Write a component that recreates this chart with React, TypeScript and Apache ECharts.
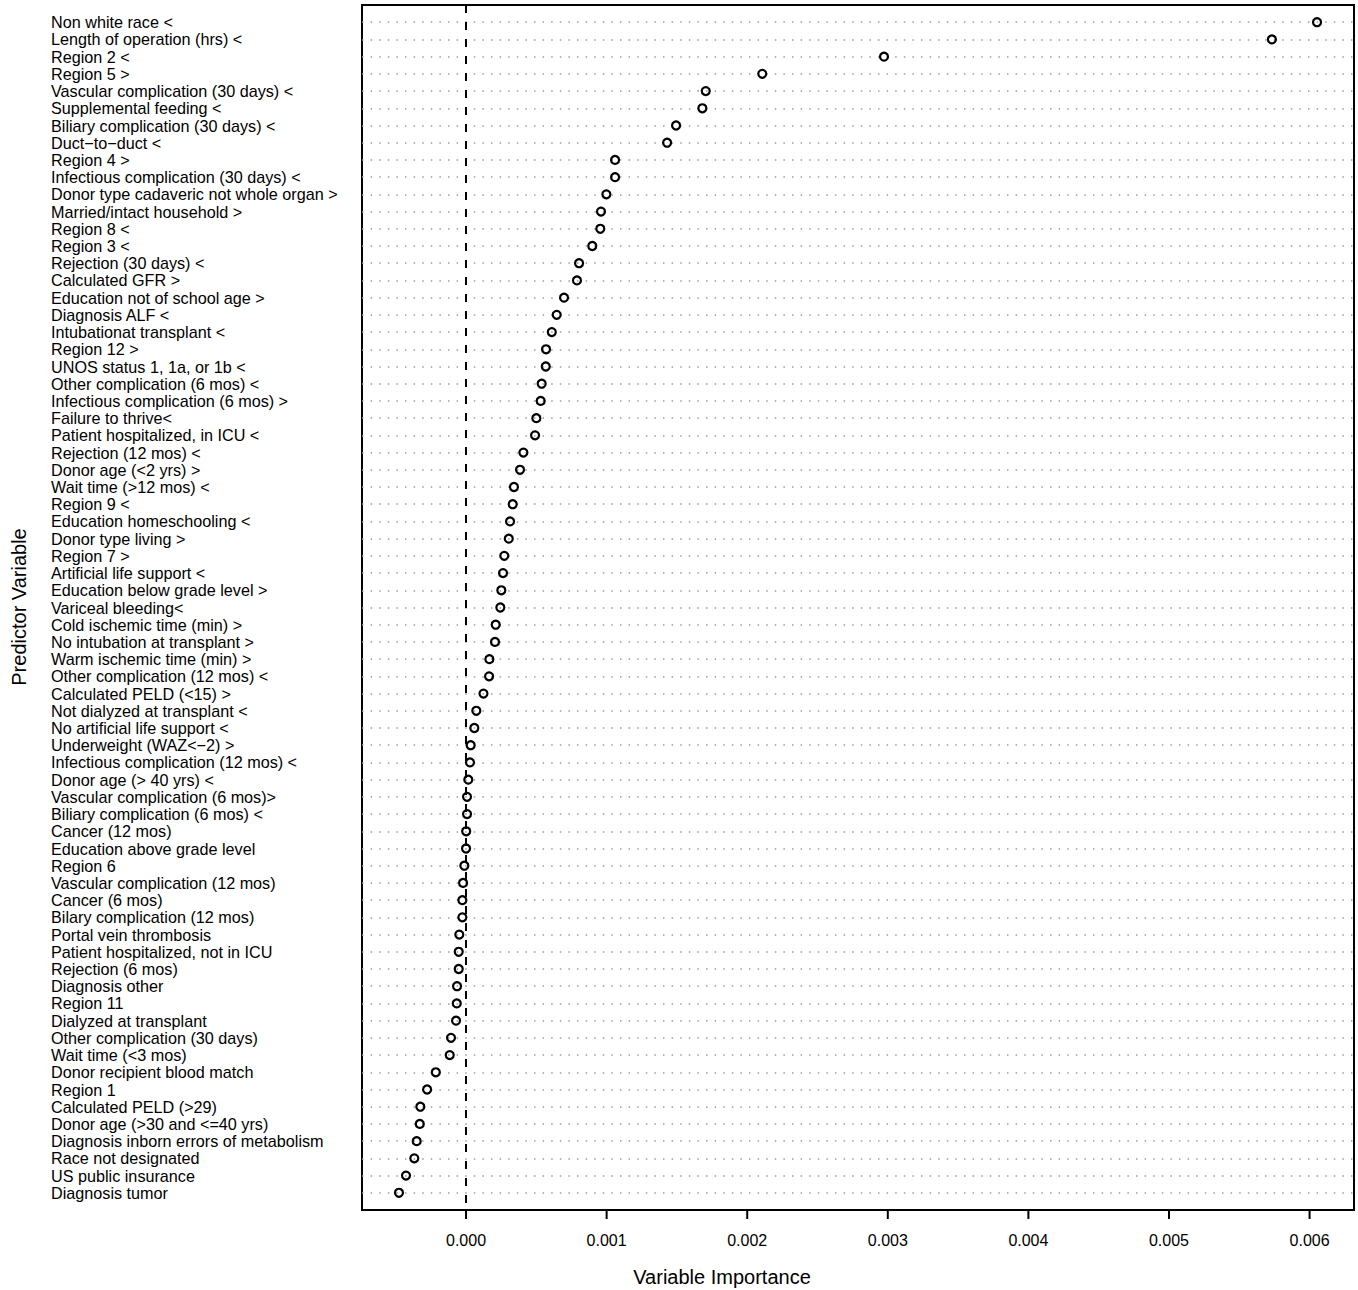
import React, { useEffect, useRef } from "react";
import * as echarts from "echarts";

const predictors: string[] = [
  "Non white race <",
  "Length of operation (hrs) <",
  "Region 2 <",
  "Region 5 >",
  "Vascular complication (30 days) <",
  "Supplemental feeding <",
  "Biliary complication (30 days) <",
  "Duct\u2212to\u2212duct <",
  "Region 4 >",
  "Infectious complication (30 days) <",
  "Donor type cadaveric not whole organ >",
  "Married/intact household >",
  "Region 8 <",
  "Region 3 <",
  "Rejection (30 days) <",
  "Calculated GFR >",
  "Education not of school age >",
  "Diagnosis ALF <",
  "Intubationat transplant <",
  "Region 12 >",
  "UNOS status 1, 1a, or 1b <",
  "Other complication (6 mos) <",
  "Infectious complication (6 mos) >",
  "Failure to thrive<",
  "Patient hospitalized, in ICU <",
  "Rejection (12 mos) <",
  "Donor age (<2 yrs) >",
  "Wait time (>12 mos) <",
  "Region 9 <",
  "Education homeschooling <",
  "Donor type living >",
  "Region 7 >",
  "Artificial life support <",
  "Education below grade level >",
  "Variceal bleeding<",
  "Cold ischemic time (min) >",
  "No intubation at transplant >",
  "Warm ischemic time (min) >",
  "Other complication (12 mos) <",
  "Calculated PELD (<15) >",
  "Not dialyzed at transplant <",
  "No artificial life support <",
  "Underweight (WAZ<\u22122) >",
  "Infectious complication (12 mos) <",
  "Donor age (> 40 yrs) <",
  "Vascular complication (6 mos)>",
  "Biliary complication (6 mos) <",
  "Cancer (12 mos)",
  "Education above grade level",
  "Region 6",
  "Vascular complication (12 mos)",
  "Cancer (6 mos)",
  "Bilary complication (12 mos)",
  "Portal vein thrombosis",
  "Patient hospitalized, not in ICU",
  "Rejection (6 mos)",
  "Diagnosis other",
  "Region 11",
  "Dialyzed at transplant",
  "Other complication (30 days)",
  "Wait time (<3 mos)",
  "Donor recipient blood match",
  "Region 1",
  "Calculated PELD (>29)",
  "Donor age (>30 and <=40 yrs)",
  "Diagnosis inborn errors of metabolism",
  "Race not designated",
  "US public insurance",
  "Diagnosis tumor",
];

const importance: number[] = [
  0.006053, 0.005732, 0.002973, 0.002107, 0.001705, 0.001681, 0.001494, 0.00143,
  0.00106, 0.00106, 0.000998, 0.00096, 0.000955, 0.000898, 0.000804, 0.000789,
  0.000697, 0.000645, 0.00061, 0.000569, 0.000567, 0.000538, 0.000531, 0.0005,
  0.000491, 0.000408, 0.000384, 0.000341, 0.000332, 0.000313, 0.000304, 0.000272,
  0.000263, 0.000251, 0.000244, 0.000211, 0.000206, 0.000166, 0.000164, 0.000124,
  0.000073, 0.000059, 0.000033, 0.000028, 0.000016, 0.000007, 0.000007, 0.000001,
  0.0, -0.000012, -0.000021, -0.000026, -0.000026, -0.000048, -0.000052, -0.000052,
  -0.000064, -0.000066, -0.000071, -0.000107, -0.000116, -0.000215, -0.000277,
  -0.000325, -0.000329, -0.000351, -0.000368, -0.000427, -0.000477,
];

const xTicks: number[] = [0, 0.001, 0.002, 0.003, 0.004, 0.005, 0.006];

const xTitle = "Variable Importance";
const yTitle = "Predictor Variable";

export default function App() {
  const ref = useRef<HTMLDivElement>(null);
  useEffect(() => {
    if (!ref.current) return;
    const chart = echarts.init(ref.current, undefined, { renderer: "svg" });
    const n = predictors.length;
    const splitColors: string[] = [];
    for (let i = 0; i <= n + 1; i++) {
      splitColors.push(i === 0 || i === n + 1 ? "rgba(0,0,0,0)" : "#9c9c9c");
    }
    const font = "'Liberation Sans', Arial, Helvetica, sans-serif";
    const xMin = -0.00074;
    const xMax = 0.006316;
    chart.setOption({
      animation: false,
      textStyle: { fontFamily: font },
      grid: [
        {
          left: 362,
          right: 4,
          top: 5,
          bottom: 80,
          show: true,
          borderColor: "#000",
          borderWidth: 2,
          backgroundColor: "rgba(0,0,0,0)",
        },
        {
          left: 362,
          right: 4,
          top: 1210,
          height: 9,
          show: false,
        },
      ],
      xAxis: [
        {
          type: "value",
          gridIndex: 0,
          min: xMin,
          max: xMax,
          axisLine: { show: true, onZero: false, lineStyle: { color: "#000", width: 2 } },
          splitLine: { show: false },
          axisTick: { show: false },
          axisLabel: {
            customValues: xTicks,
            formatter: (v: number) => v.toFixed(3),
            fontSize: 16,
            color: "#000",
            margin: 22,
            fontFamily: font,
          },
        },
        {
          type: "value",
          gridIndex: 1,
          min: xMin,
          max: xMax,
          show: false,
        },
      ],
      yAxis: [
        {
          type: "value",
          gridIndex: 0,
          min: 0,
          max: n + 1,
          interval: 1,
          inverse: true,
          axisLine: { show: false, onZero: false },
          axisTick: { show: false },
          axisLabel: {
            align: "left",
            margin: 311,
            fontSize: 16.2,
            color: "#000",
            fontFamily: font,
            formatter: (v: number) => predictors[Math.round(v) - 1] ?? "",
          },
          splitLine: {
            show: true,
            lineStyle: { color: splitColors, width: 1.5, type: [1.5, 7.1] },
          },
        },
        {
          type: "value",
          gridIndex: 1,
          min: 0,
          max: 1,
          show: false,
        },
      ],
      series: [
        {
          type: "scatter",
          xAxisIndex: 0,
          yAxisIndex: 0,
          data: importance.map((v, i) => [v, i + 1]),
          symbol: "circle",
          symbolSize: 8,
          itemStyle: {
            color: "rgba(0,0,0,0)",
            borderColor: "#000",
            borderWidth: 2.2,
            opacity: 1,
          },
          z: 3,
          markLine: {
            silent: true,
            symbol: "none",
            label: { show: false },
            lineStyle: { color: "#000", width: 2, type: [8, 9] },
            data: [{ xAxis: 0 }],
            z: 2,
          },
        },
        {
          type: "scatter",
          xAxisIndex: 1,
          yAxisIndex: 1,
          silent: true,
          data: xTicks.map((t) => [t, 0.5]),
          symbol: "rect",
          symbolSize: [2, 9],
          itemStyle: { color: "#000", opacity: 1 },
          z: 10,
        },
      ],
      graphic: [
        {
          type: "text",
          x: 722,
          y: 1277,
          style: {
            text: xTitle,
            fontSize: 20,
            fontFamily: font,
            fill: "#000",
            textAlign: "center",
            textVerticalAlign: "middle",
          },
        },
        {
          type: "text",
          x: 19,
          y: 607,
          rotation: Math.PI / 2,
          style: {
            text: yTitle,
            fontSize: 20,
            fontFamily: font,
            fill: "#000",
            textAlign: "center",
            textVerticalAlign: "middle",
          },
        },
      ],
    });
    return () => chart.dispose();
  }, []);
  return (
    <div
      ref={ref}
      style={{ position: "absolute", left: 0, top: 0, width: 1358, height: 1290 }}
    />
  );
}
